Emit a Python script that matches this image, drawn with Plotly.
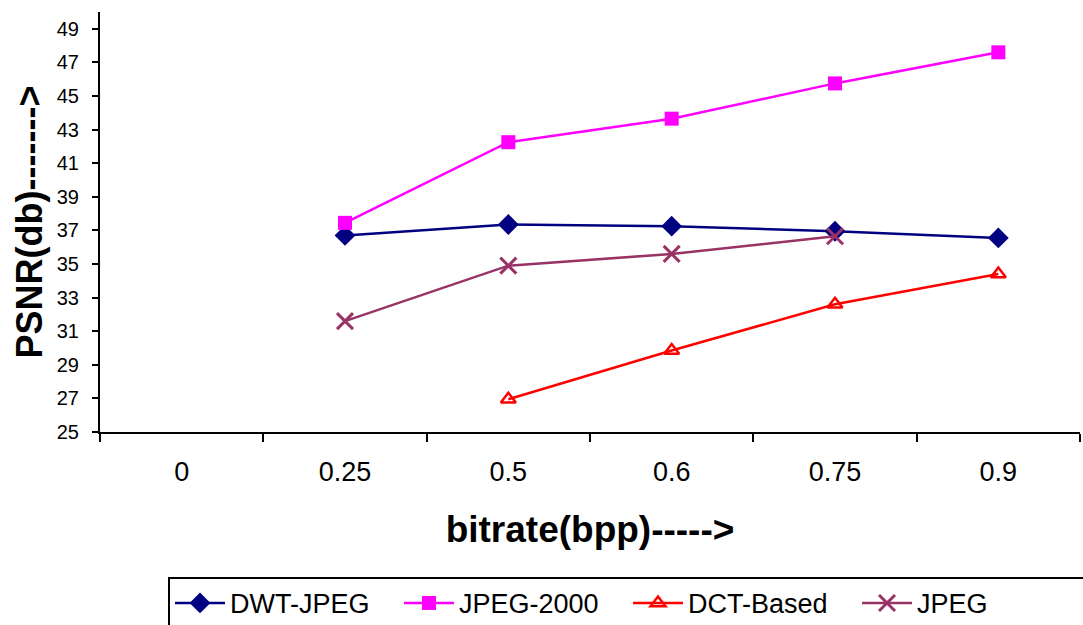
import plotly.graph_objects as go

categories = ["0", "0.25", "0.5", "0.6", "0.75", "0.9"]
dwt_jpeg = [None, 36.7, 37.35, 37.25, 36.95, 36.55]
jpeg_2000 = [None, 37.45, 42.25, 43.65, 45.75, 47.6]
dct_based = [None, None, 26.95, 29.85, 32.6, 34.4]
jpeg = [None, 31.6, 34.9, 35.6, 36.65, None]
y_ticks = list(range(25, 50, 2))

fig = go.Figure()
fig.add_trace(go.Scatter(x=categories, y=dwt_jpeg, name="DWT-JPEG", mode="lines+markers",
                         line=dict(color="#000080", width=2.5),
                         marker=dict(symbol="diamond", size=16, color="#000080")))
fig.add_trace(go.Scatter(x=categories, y=jpeg_2000, name="JPEG-2000", mode="lines+markers",
                         line=dict(color="#FF00FF", width=2.5),
                         marker=dict(symbol="square", size=14, color="#FF00FF")))
fig.add_trace(go.Scatter(x=categories, y=dct_based, name="DCT-Based", mode="lines+markers",
                         line=dict(color="#FF0000", width=2.5),
                         marker=dict(symbol="triangle-up-open", size=13, color="#FF0000",
                                     line=dict(width=2.5, color="#FF0000"))))
fig.add_trace(go.Scatter(x=categories, y=jpeg, name="JPEG", mode="lines+markers",
                         line=dict(color="#993366", width=2.5),
                         marker=dict(symbol="x-thin-open", size=16, color="#993366",
                                     line=dict(width=3, color="#993366"))))

font_family = "Liberation Sans, Arial, sans-serif"
fig.update_layout(
    width=1083, height=625,
    margin=dict(l=100, r=3, t=12, b=193, autoexpand=False),
    paper_bgcolor="white", plot_bgcolor="white",
    font=dict(family=font_family, color="black"),
    showlegend=True,
    legend=dict(orientation="h", x=0.0694, xanchor="left", y=-0.345, yanchor="top",
                bordercolor="black", borderwidth=2, font=dict(size=27),
                entrywidth=164, entrywidthmode="pixels",
                itemwidth=50, tracegroupgap=0),
)
fig.update_xaxes(
    type="category", categoryorder="array", categoryarray=categories,
    range=[-0.5, 5.5], showline=True, linecolor="black", linewidth=2,
    ticks="outside", tickson="boundaries", ticklen=8, tickwidth=2, tickcolor="black",
    tickfont=dict(size=27), ticklabelstandoff=15, showgrid=False, zeroline=False,
    title=dict(text="<b>bitrate(bpp)-----></b>", font=dict(size=37), standoff=30),
)
fig.update_yaxes(
    range=[25, 50], tickvals=y_ticks, showline=True, linecolor="black", linewidth=2,
    ticks="outside", ticklen=6, tickwidth=2, tickcolor="black",
    tickfont=dict(size=20), ticklabelstandoff=9, showgrid=False, zeroline=False,
    title=dict(text="<b>PSNR(db)-------></b>", font=dict(size=36), standoff=3),
)

fig.write_html("out.html")
